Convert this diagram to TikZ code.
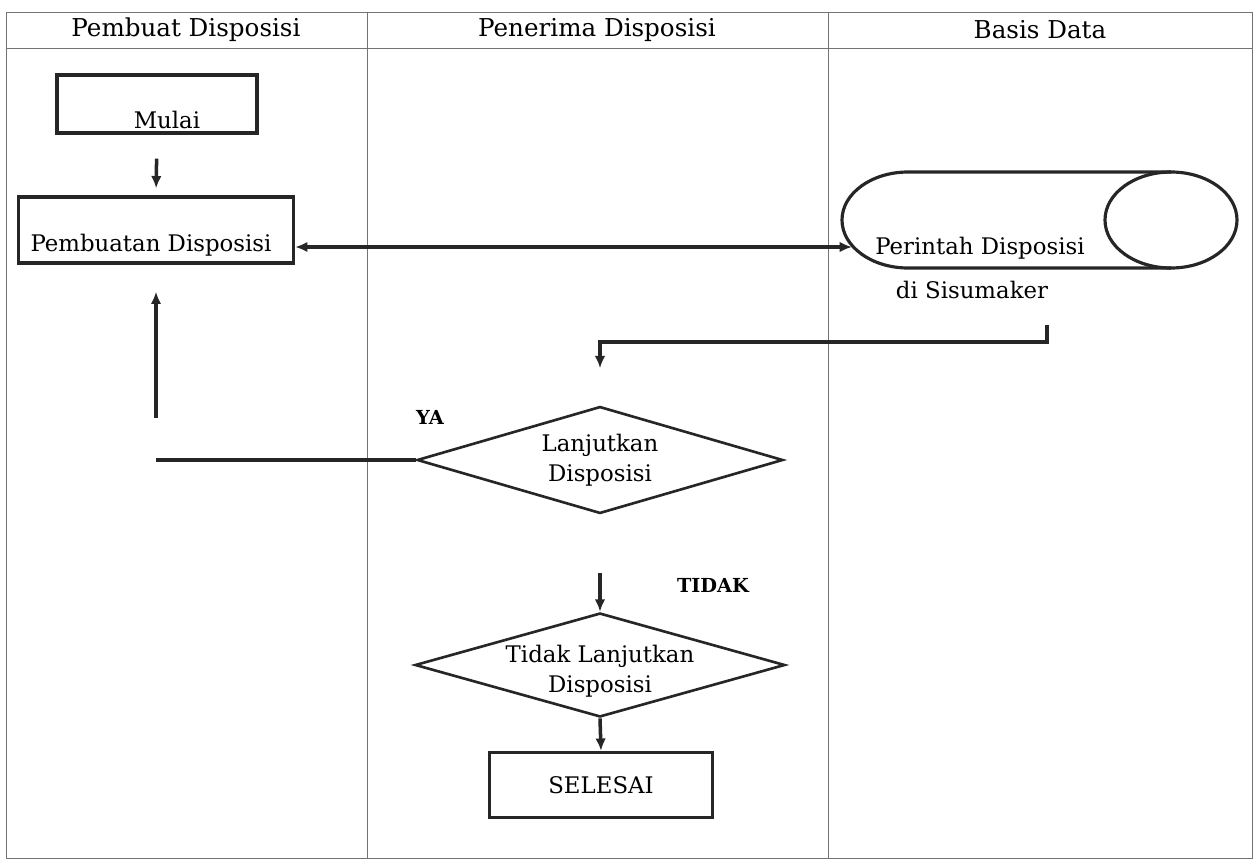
\documentclass[tikz,border=0pt]{standalone}
\usepackage{fontspec}
\setmainfont{DejaVu Serif}
\usetikzlibrary{shapes.geometric,arrows.meta}

\begin{document}
\begin{tikzpicture}[x=0.02cm,y=-0.02cm,
    font=\fontsize{13}{17}\selectfont,
    lane/.style={draw=black!55,line width=0.5pt},
    box/.style={draw=black!85,line width=1.9pt,inner sep=0pt},
    choice/.style={diamond,draw=black!85,line width=1.5pt,inner sep=0pt},
    arr/.style={-{Latex[length=7pt,width=6pt]},line width=2pt,draw=black!85},
    tag/.style={font=\bfseries\fontsize{11}{13}\selectfont}]
\useasboundingbox (0,0) rectangle (1255,862);
% swimlanes
\draw[lane] (6,12) rectangle (1252,858);
\draw[lane] (6,48) -- (1252,48);
\draw[lane] (367,12) -- (367,858);
\draw[lane] (828,12) -- (828,858);
\node[font=\fontsize{14}{17}\selectfont] (lane1) at (186,30) {Pembuat Disposisi};
\node[font=\fontsize{14}{17}\selectfont] (lane2) at (597,30) {Penerima Disposisi};
\node[font=\fontsize{14}{17}\selectfont] (lane3) at (1040,30) {Basis Data};

% nodes
\node[box,minimum width=4cm,minimum height=1.16cm,
    label={[name=mulaitext,xshift=0.2cm,yshift=-0.32cm]center:Mulai}] (mulai) at (157,104) {};
\node[box,minimum width=5.5cm,minimum height=1.32cm,
    label={[name=pembtext,xshift=-0.1cm,yshift=-0.3cm]center:Pembuatan Disposisi}] (pemb) at (156,230) {};
% storage (drawn directly)
\draw[draw=black!85,line width=1.8pt] (1171,172) -- (908,172)
    arc[start angle=270,end angle=90,x radius=66,y radius=48] -- (1171,268);
\draw[draw=black!85,line width=1.8pt] (1171,220) ellipse[x radius=66,y radius=48];
\coordinate (dbwest) at (852,247);
\node (dbtext) at (980,248) {Perintah Disposisi};
\node (dbsub) at (972,290) {di Sisumaker};
\node[choice,minimum width=7.32cm,minimum height=2.14cm,
    label={[name=lanjuttext,align=center]center:{Lanjutkan\\Disposisi}}] (lanjut) at (600,460) {};
\node[choice,minimum width=7.4cm,minimum height=2.08cm,
    label={[name=tidaktext,align=center,yshift=-0.12cm]center:{Tidak Lanjutkan\\Disposisi}}] (tidak) at (600,665) {};
\node[box,minimum width=4.46cm,minimum height=1.3cm] (selesai) at (601,785) {SELESAI};
\node[tag] (ya) at (430,417) {YA};
\node[tag] (no) at (713,585) {TIDAK};

\coordinate (dbout) at (1047,325);
\coordinate (turn) at (1047,342);
\coordinate (yaend) at (156,460);
\coordinate (tidakin) at (600,573);

% connectors
\draw[arr,shorten <=0.48cm,shorten >=0.14cm] (mulai.south) -- (pemb.north);
\draw[arr,{Latex[length=7pt,width=6pt]}-{Latex[length=7pt,width=6pt]}]
    (pemb.east |- dbwest) -- (dbwest);
\draw[arr,shorten >=0.74cm] (dbout) -- (turn) -| (lanjut.north);
\draw[arr,-] (lanjut.west) -- (yaend);
\draw[arr,shorten <=0.84cm,shorten >=0.54cm] (yaend) -- (pemb.south);
\draw[arr] (tidakin) -- (tidak.north);
\draw[arr] (tidak.south) -- (selesai.north);
\end{tikzpicture}
\end{document}
